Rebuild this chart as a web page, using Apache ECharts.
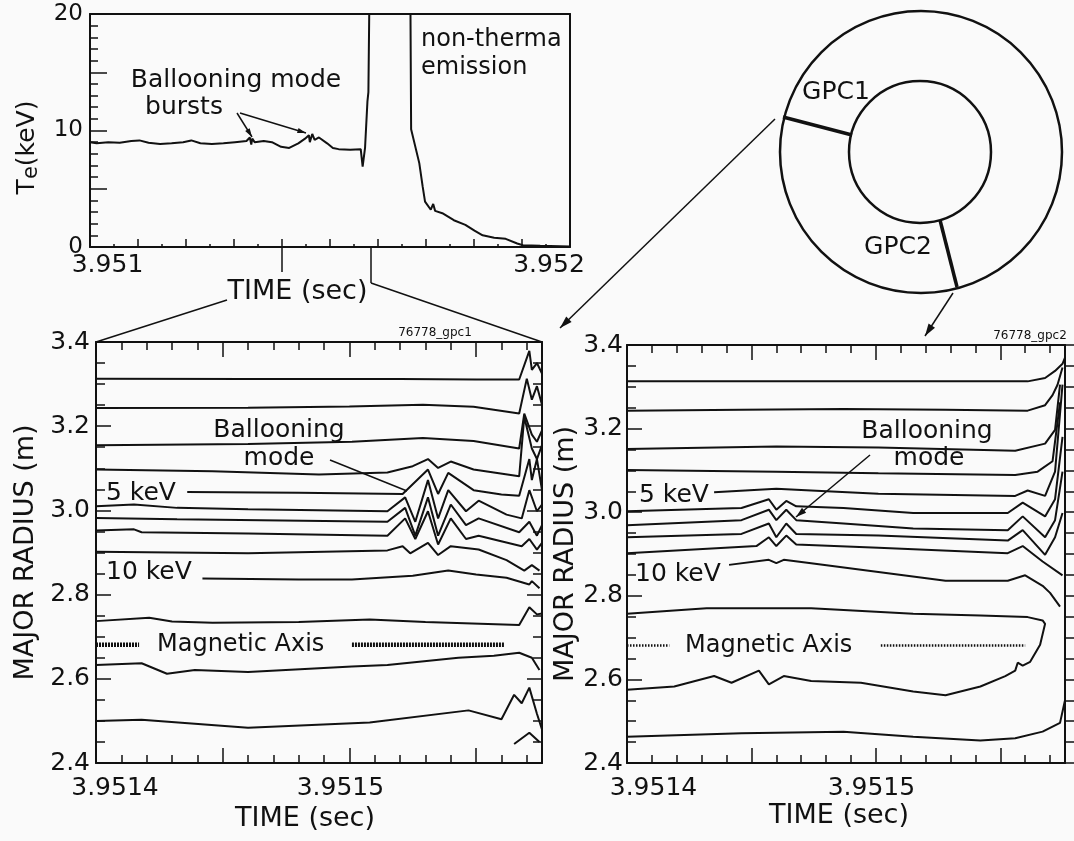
<!DOCTYPE html>
<html lang="en">
<head>
<meta charset="UTF-8">
<title>Ballooning mode bursts - GPC1 / GPC2</title>
<style>
    * { margin: 0; padding: 0; }
    html, body { width: 100%; height: 100%; background: #fafafa; }
    #main { width: 1074px; height: 841px; }
</style>
</head>
<body>
<div id="main"></div>
<script src="https://cdn.jsdelivr.net/npm/echarts@6/dist/echarts.min.js"></script>
<script>
    var myChart = echarts.init(document.getElementById('main'));

    const FONT = '"DejaVu Sans", "Liberation Sans", sans-serif';
    const INK = '#111';

    // ---- top panel: Te vs time, times in us after 3.951 s
    const TE_T0 = 3.951;
    const teTimes = [0, 14, 38, 62, 86, 103, 122, 146, 170, 194, 211, 230, 254, 278, 302, 326, 333, 336, 338, 343,
        362, 379, 398, 415, 434, 448, 456, 458, 463, 468, 477, 494, 506, 518, 542, 564, 568, 573, 578, 580,
        583, 667, 669, 686, 693, 698, 710, 715, 719, 734, 758, 782, 801, 818, 842, 866, 890, 902, 938, 1000];
    const teValues = [9.0, 8.9, 9.0, 8.95, 9.1, 9.15, 8.95, 8.85, 8.9, 9.0, 9.15, 8.9, 8.85, 8.9, 9.0, 9.1, 9.4, 8.8, 9.3, 9.0,
        9.1, 9.0, 8.6, 8.5, 8.9, 9.3, 9.6, 9.0, 9.7, 9.2, 9.4, 8.9, 8.5, 8.4, 8.35, 8.4, 6.9, 8.5, 12.5, 13.3,
        25, 25, 10.1, 7.2, 5.2, 3.9, 3.2, 3.7, 3.1, 2.9, 2.3, 1.9, 1.4, 1.0, 0.8, 0.7, 0.3, 0.15, 0.1, 0.05];
    const teTimeLabels = [3.951, 3.952];
    const teTickLabels = [0, 10, 20];

    // ---- bottom panels: isotherm radius vs time, times in us after 3.9514 s
    const GPC_T0 = 3.9514;
    const GPC_TMAX = 3.951576;
    const gpcTimeLabels = [3.9514, 3.9515];

    const gpc1Times = [
        [0, 60, 120, 150, 167, 171, 172, 174, 176],
        [0, 60, 100, 129, 149, 167, 170, 172, 174, 176],
        [0, 60, 101, 129, 149, 167, 169, 172, 174, 176],
        [0, 46, 88, 115, 125, 131, 135, 140, 149, 167, 169, 172, 174, 176],
        [36, 80, 121, 131, 135, 139, 149, 160, 167, 171, 172, 174, 176],
        [0, 15, 32, 60, 115, 122, 126, 131, 135, 139, 146, 151, 162, 168, 171, 174, 176],
        [0, 32, 115, 122, 126, 131, 135, 140, 146, 151, 167, 171, 174, 176],
        [0, 15, 18, 60, 115, 122, 126, 131, 135, 140, 146, 151, 168, 171, 174, 176],
        [0, 60, 115, 121, 124, 131, 135, 140, 151, 162, 169, 172, 175],
        [42, 80, 101, 125, 139, 150, 162, 171, 172, 175],
        [0, 21, 30, 46, 80, 108, 130, 167, 171, 174, 176],
        [0, 18, 28, 39, 60, 88, 101, 115, 143, 157, 167, 172, 175],
        [0, 18, 60, 108, 147, 160, 165, 168, 171, 174, 176],
        [165, 171, 175]
    ];
    const gpc1Radii = [
        [3.313, 3.312, 3.312, 3.311, 3.311, 3.379, 3.334, 3.350, 3.325],
        [3.243, 3.244, 3.247, 3.251, 3.246, 3.230, 3.313, 3.263, 3.295, 3.251],
        [3.155, 3.158, 3.163, 3.172, 3.165, 3.147, 3.230, 3.180, 3.163, 3.190],
        [3.097, 3.093, 3.085, 3.090, 3.105, 3.122, 3.101, 3.116, 3.097, 3.081, 3.222, 3.147, 3.122, 3.155],
        [3.044, 3.042, 3.039, 3.097, 3.039, 3.089, 3.048, 3.038, 3.035, 3.122, 3.072, 3.122, 3.048],
        [3.010, 3.014, 3.006, 3.003, 2.998, 3.031, 2.973, 3.072, 2.981, 3.048, 2.998, 3.023, 2.990, 2.981, 3.048, 2.998, 3.014],
        [2.982, 2.979, 2.973, 3.006, 2.940, 3.031, 2.940, 3.014, 2.965, 2.981, 2.948, 2.973, 2.940, 2.965],
        [2.952, 2.955, 2.948, 2.945, 2.940, 2.981, 2.932, 2.998, 2.919, 2.981, 2.932, 2.940, 2.915, 2.932, 2.907, 2.923],
        [2.902, 2.898, 2.905, 2.915, 2.898, 2.923, 2.894, 2.915, 2.907, 2.882, 2.857, 2.870, 2.857],
        [2.838, 2.836, 2.836, 2.845, 2.857, 2.848, 2.840, 2.824, 2.832, 2.815],
        [2.737, 2.745, 2.736, 2.733, 2.735, 2.741, 2.735, 2.728, 2.770, 2.753, 2.755],
        [2.633, 2.637, 2.612, 2.621, 2.616, 2.625, 2.629, 2.633, 2.650, 2.655, 2.662, 2.650, 2.621],
        [2.500, 2.503, 2.484, 2.496, 2.525, 2.504, 2.562, 2.542, 2.579, 2.517, 2.480],
        [2.445, 2.472, 2.450]
    ];

    const gpc2Times = [
        [0, 161, 168, 172, 175, 176],
        [0, 46, 87, 128, 161, 168, 171, 173, 175],
        [0, 60, 101, 156, 168, 172, 174],
        [0, 60, 101, 156, 165, 171, 174],
        [35, 60, 74, 101, 156, 161, 168, 172, 175],
        [0, 46, 57, 60, 64, 68, 87, 115, 153, 159, 168, 172, 175],
        [0, 46, 57, 60, 64, 68, 87, 115, 153, 159, 168, 172, 175],
        [0, 46, 57, 60, 64, 68, 101, 153, 159, 168, 172, 175],
        [0, 52, 57, 60, 64, 68, 101, 153, 159, 167, 175],
        [41, 57, 60, 63, 74, 101, 128, 153, 160, 167, 170, 174],
        [0, 32, 74, 115, 142, 161, 167, 168, 166, 162, 159, 157, 156, 152, 142, 128, 115, 94, 74, 63, 57, 53, 42, 35, 19, 0],
        [0, 46, 87, 115, 142, 156, 167, 174, 176]
    ];
    const gpc2Radii = [
        [3.313, 3.313, 3.321, 3.338, 3.355, 3.370],
        [3.243, 3.245, 3.247, 3.245, 3.243, 3.256, 3.280, 3.305, 3.346],
        [3.151, 3.157, 3.155, 3.147, 3.164, 3.197, 3.305],
        [3.101, 3.097, 3.093, 3.089, 3.097, 3.122, 3.263],
        [3.048, 3.056, 3.052, 3.044, 3.039, 3.052, 3.039, 3.097, 3.305],
        [3.002, 3.010, 3.031, 3.006, 3.027, 3.014, 3.010, 2.998, 2.998, 3.023, 2.990, 3.031, 3.180],
        [2.969, 2.981, 3.006, 2.981, 3.006, 2.981, 2.973, 2.961, 2.957, 2.990, 2.940, 2.981, 3.097],
        [2.940, 2.948, 2.973, 2.940, 2.973, 2.948, 2.944, 2.932, 2.957, 2.898, 2.940, 2.998],
        [2.902, 2.919, 2.940, 2.919, 2.944, 2.923, 2.915, 2.902, 2.919, 2.882, 2.849],
        [2.874, 2.886, 2.878, 2.886, 2.878, 2.857, 2.836, 2.836, 2.849, 2.824, 2.807, 2.774],
        [2.757, 2.770, 2.770, 2.757, 2.753, 2.749, 2.741, 2.733, 2.683, 2.642, 2.633, 2.640, 2.621, 2.608, 2.583,
            2.562, 2.571, 2.592, 2.596, 2.608, 2.588, 2.621, 2.592, 2.608, 2.583, 2.575],
        [2.463, 2.471, 2.475, 2.463, 2.454, 2.459, 2.475, 2.496, 2.550]
    ];

    // magnetic axis position and the stretches where it is marked
    const magAxisRadius = [2.681, 2.681];
    const magAxisSpans1 = [[0, 17], [101, 161]];
    const magAxisSpans2 = [[0, 17], [102, 160]];

    function pairs(times, values, t0) {
        return times.map(function (t, i) { return [t0 + t * 1e-6, values[i]]; });
    }

    function near(v, list) {
        return list.find(function (l) { return Math.abs(l - v) < 1e-9; });
    }

    function xAxisOf(grid, min, max, extra) {
        return Object.assign({
            type: 'value', gridIndex: grid, min: min, max: max,
            axisLine: { show: true, onZero: false, lineStyle: { color: INK, width: 2 } },
            axisTick: { show: false },
            axisLabel: { show: false },
            splitLine: { show: false }
        }, extra);
    }

    function tick(len, inside) {
        return { show: true, inside: inside !== false, length: len, lineStyle: { color: INK, width: 1.5 } };
    }

    function edgeLabels(list, digits, size, padL, padR) {
        return {
            show: true, color: INK, fontSize: size, fontFamily: FONT,
            formatter: function (v) {
                const hit = near(v, list);
                if (hit === undefined) return '';
                return (hit === list[0] ? '{l|' : '{r|') + hit.toFixed(digits) + '}';
            },
            rich: {
                l: { fontSize: size, fontFamily: FONT, color: INK, padding: [0, 0, 0, padL] },
                r: { fontSize: size, fontFamily: FONT, color: INK, padding: [0, padR, 0, 0] }
            }
        };
    }

    // x axes of one bottom panel: major + minor ticks, bottom and top
    function gpcXAxes(grid, padL, padR, namePad, nameGap) {
        return [
            xAxisOf(grid, GPC_T0, GPC_TMAX, {
                position: 'bottom', interval: 0.00005, axisTick: tick(15),
                axisLabel: Object.assign(edgeLabels(gpcTimeLabels, 4, 25, padL, padR), { margin: 13 }),
                name: 'TIME (sec)', nameLocation: 'middle', nameGap: nameGap,
                nameTextStyle: { color: INK, fontSize: 27, fontFamily: FONT, padding: [0, namePad, 0, 0] }
            }),
            xAxisOf(grid, GPC_T0, GPC_TMAX, { position: 'bottom', interval: 0.00001, axisLine: { show: false, onZero: false }, axisTick: tick(8) }),
            xAxisOf(grid, GPC_T0, GPC_TMAX, { position: 'top', interval: 0.00005, axisTick: tick(15) }),
            xAxisOf(grid, GPC_T0, GPC_TMAX, { position: 'top', interval: 0.00001, axisLine: { show: false, onZero: false }, axisTick: tick(8) })
        ];
    }

    function gpcYAxes(grid, nameGap, labelMargin, rightInside) {
        const base = {
            type: 'value', gridIndex: grid, min: 2.4, max: 3.4, interval: 0.2,
            axisLine: { show: true, onZero: false, lineStyle: { color: INK, width: 2 } },
            axisTick: tick(15),
            minorTick: { show: true, splitNumber: 4, length: 9, lineStyle: { color: INK, width: 1.5 } },
            splitLine: { show: false }
        };
        return [
            Object.assign({}, base, {
                position: 'left',
                axisLabel: { color: INK, fontSize: 25, fontFamily: FONT, margin: labelMargin, formatter: function (v) { return v.toFixed(1); } },
                name: 'MAJOR RADIUS (m)', nameLocation: 'middle', nameRotate: 90, nameGap: nameGap,
                nameTextStyle: { color: INK, fontSize: 27, fontFamily: FONT }
            }),
            Object.assign({}, base, {
                position: 'right', axisLabel: { show: false },
                axisTick: tick(rightInside ? 15 : 9, rightInside),
                minorTick: { show: true, splitNumber: 4, length: 9, lineStyle: { color: INK, width: 1.5 } }
            })
        ];
    }

    const xAxes = [
        xAxisOf(0, TE_T0, 3.952, {
            position: 'bottom', interval: 0.0001, axisTick: tick(8),
            minorTick: { show: true, splitNumber: 2, length: 3, lineStyle: { color: INK, width: 1.5 } },
            axisLabel: Object.assign(edgeLabels(teTimeLabels, 3, 25, 35, 42), { margin: 6 }),
            name: 'TIME (sec)', nameLocation: 'middle', nameGap: 27,
            nameTextStyle: { color: INK, fontSize: 27, fontFamily: FONT, padding: [0, 65, 0, 0] }
        }),
        xAxisOf(0, TE_T0, 3.952, { position: 'top' })
    ].concat(gpcXAxes(1, 38, 18, 28, 41), gpcXAxes(2, 53, 9, 14, 39));

    const yAxes = [
        {
            type: 'value', gridIndex: 0, min: 0, max: 20, interval: 5, position: 'left',
            axisLine: { show: true, onZero: false, lineStyle: { color: INK, width: 2 } },
            axisTick: tick(17),
            minorTick: { show: true, splitNumber: 5, length: 8, lineStyle: { color: INK, width: 1.5 } },
            splitLine: { show: false },
            axisLabel: {
                color: INK, fontSize: 23, fontFamily: FONT, margin: 7,
                formatter: function (v) { return teTickLabels.indexOf(v) >= 0 ? String(v) : ''; }
            },
            name: '{a|T}{b|e}{a|(keV)}', nameLocation: 'middle', nameRotate: 90, nameGap: 48,
            nameTextStyle: {
                padding: [0, 34, 0, 0],
                rich: {
                    a: { color: INK, fontSize: 25, fontFamily: FONT },
                    b: { color: INK, fontSize: 21, fontFamily: FONT, padding: [8, 0, 0, 0] }
                }
            }
        },
        {
            type: 'value', gridIndex: 0, min: 0, max: 20, position: 'right',
            axisLine: { show: true, onZero: false, lineStyle: { color: INK, width: 2 } },
            axisTick: { show: false }, axisLabel: { show: false }, splitLine: { show: false }
        }
    ].concat(gpcYAxes(1, 57, 6, true), gpcYAxes(2, 44, 4, false));

    const series = [];
    series.push({
        type: 'line', xAxisIndex: 0, yAxisIndex: 0, data: pairs(teTimes, teValues, TE_T0),
        symbol: 'none', clip: true, silent: true, lineStyle: { color: INK, width: 2 }
    });
    gpc1Times.forEach(function (ts, i) {
        series.push({
            type: 'line', xAxisIndex: 2, yAxisIndex: 2, data: pairs(ts, gpc1Radii[i], GPC_T0),
            symbol: 'none', clip: true, silent: true, lineStyle: { color: INK, width: 2 }
        });
    });
    gpc2Times.forEach(function (ts, i) {
        series.push({
            type: 'line', xAxisIndex: 6, yAxisIndex: 4, data: pairs(ts, gpc2Radii[i], GPC_T0),
            symbol: 'none', clip: true, silent: true, lineStyle: { color: INK, width: 2 }
        });
    });
    magAxisSpans1.forEach(function (s) {
        series.push({
            type: 'line', xAxisIndex: 2, yAxisIndex: 2,
            data: pairs(s, [magAxisRadius[0], magAxisRadius[0]], GPC_T0),
            symbol: 'none', silent: true, lineStyle: { color: INK, width: 4.5, type: [2, 1] }
        });
    });
    magAxisSpans2.forEach(function (s) {
        series.push({
            type: 'line', xAxisIndex: 6, yAxisIndex: 4,
            data: pairs(s, [magAxisRadius[1], magAxisRadius[1]], GPC_T0),
            symbol: 'none', silent: true, lineStyle: { color: INK, width: 2.5, type: [1.5, 1.5] }
        });
    });

    // annotation helpers
    function seg(x1, y1, x2, y2, w) {
        return { type: 'line', silent: true, shape: { x1: x1, y1: y1, x2: x2, y2: y2 }, style: { stroke: INK, lineWidth: w || 1.5 } };
    }
    function head(x1, y1, x2, y2, s) {
        const a = Math.atan2(y2 - y1, x2 - x1);
        s = s || 11;
        return {
            type: 'polygon', silent: true,
            shape: { points: [[x2, y2], [x2 - s * Math.cos(a - 0.3), y2 - s * Math.sin(a - 0.3)], [x2 - s * Math.cos(a + 0.3), y2 - s * Math.sin(a + 0.3)]] },
            style: { fill: INK }
        };
    }
    function txt(s, x, y, size, align) {
        return {
            type: 'text', silent: true, x: x, y: y,
            style: { text: s, fill: INK, font: size + 'px ' + FONT, align: align || 'center', verticalAlign: 'middle' }
        };
    }

    const graphics = [
        // top panel notes
        txt('Ballooning mode', 236, 80, 25),
        txt('bursts', 184, 107, 25),
        seg(237, 113, 252, 137), head(237, 113, 252, 137, 9),
        seg(240, 113, 306, 133), head(240, 113, 306, 133, 9),
        txt('non-therma', 421, 40, 24, 'left'),
        txt('emission', 421, 68, 24, 'left'),
        // zoom connectors
        seg(282, 247, 282, 272),
        seg(371, 247, 371, 283), seg(371, 283, 542, 342),
        seg(96, 342, 227, 300),
        // bottom-left notes
        txt('76778_gpc1', 435, 333, 12),
        txt('Ballooning', 279, 430, 25),
        txt('mode', 279, 458, 25),
        seg(330, 460, 407, 491),
        txt('5 keV', 106, 493, 25, 'left'),
        txt('10 keV', 106, 572, 25, 'left'),
        txt('Magnetic Axis', 157, 645, 24, 'left'),
        // bottom-right notes
        txt('76778_gpc2', 1030, 336, 12),
        txt('Ballooning', 927, 431, 25),
        txt('mode', 929, 458, 25),
        seg(870, 455, 796, 517), head(870, 455, 796, 517, 11),
        txt('5 keV', 639, 495, 25, 'left'),
        txt('10 keV', 635, 574, 25, 'left'),
        txt('Magnetic Axis', 685, 646, 24, 'left'),
        // torus cross-section
        { type: 'circle', silent: true, shape: { cx: 921, cy: 152, r: 141 }, style: { fill: 'none', stroke: INK, lineWidth: 2.5 } },
        { type: 'circle', silent: true, shape: { cx: 920, cy: 152, r: 71 }, style: { fill: 'none', stroke: INK, lineWidth: 2.5 } },
        seg(783, 117, 852, 135, 3.5),
        seg(940, 220, 957, 287, 3.5),
        txt('GPC1', 836, 92, 25),
        txt('GPC2', 898, 247, 25),
        seg(775, 119, 560, 328), head(775, 119, 560, 328, 13),
        seg(953, 293, 925, 336), head(953, 293, 925, 336, 13)
    ];

    option = {
        animation: false,
        backgroundColor: '#fafafa',
        textStyle: { fontFamily: FONT },
        grid: [
            { left: 90, top: 14, width: 480, height: 233 },
            { left: 96, top: 342, width: 446, height: 421 },
            { left: 627, top: 345, width: 438, height: 418 }
        ],
        xAxis: xAxes,
        yAxis: yAxes,
        series: series,
        graphic: graphics
    };

    myChart.setOption(option);
    window.onresize = () => {
        myChart.resize();
    }
</script>
</body>
</html>
